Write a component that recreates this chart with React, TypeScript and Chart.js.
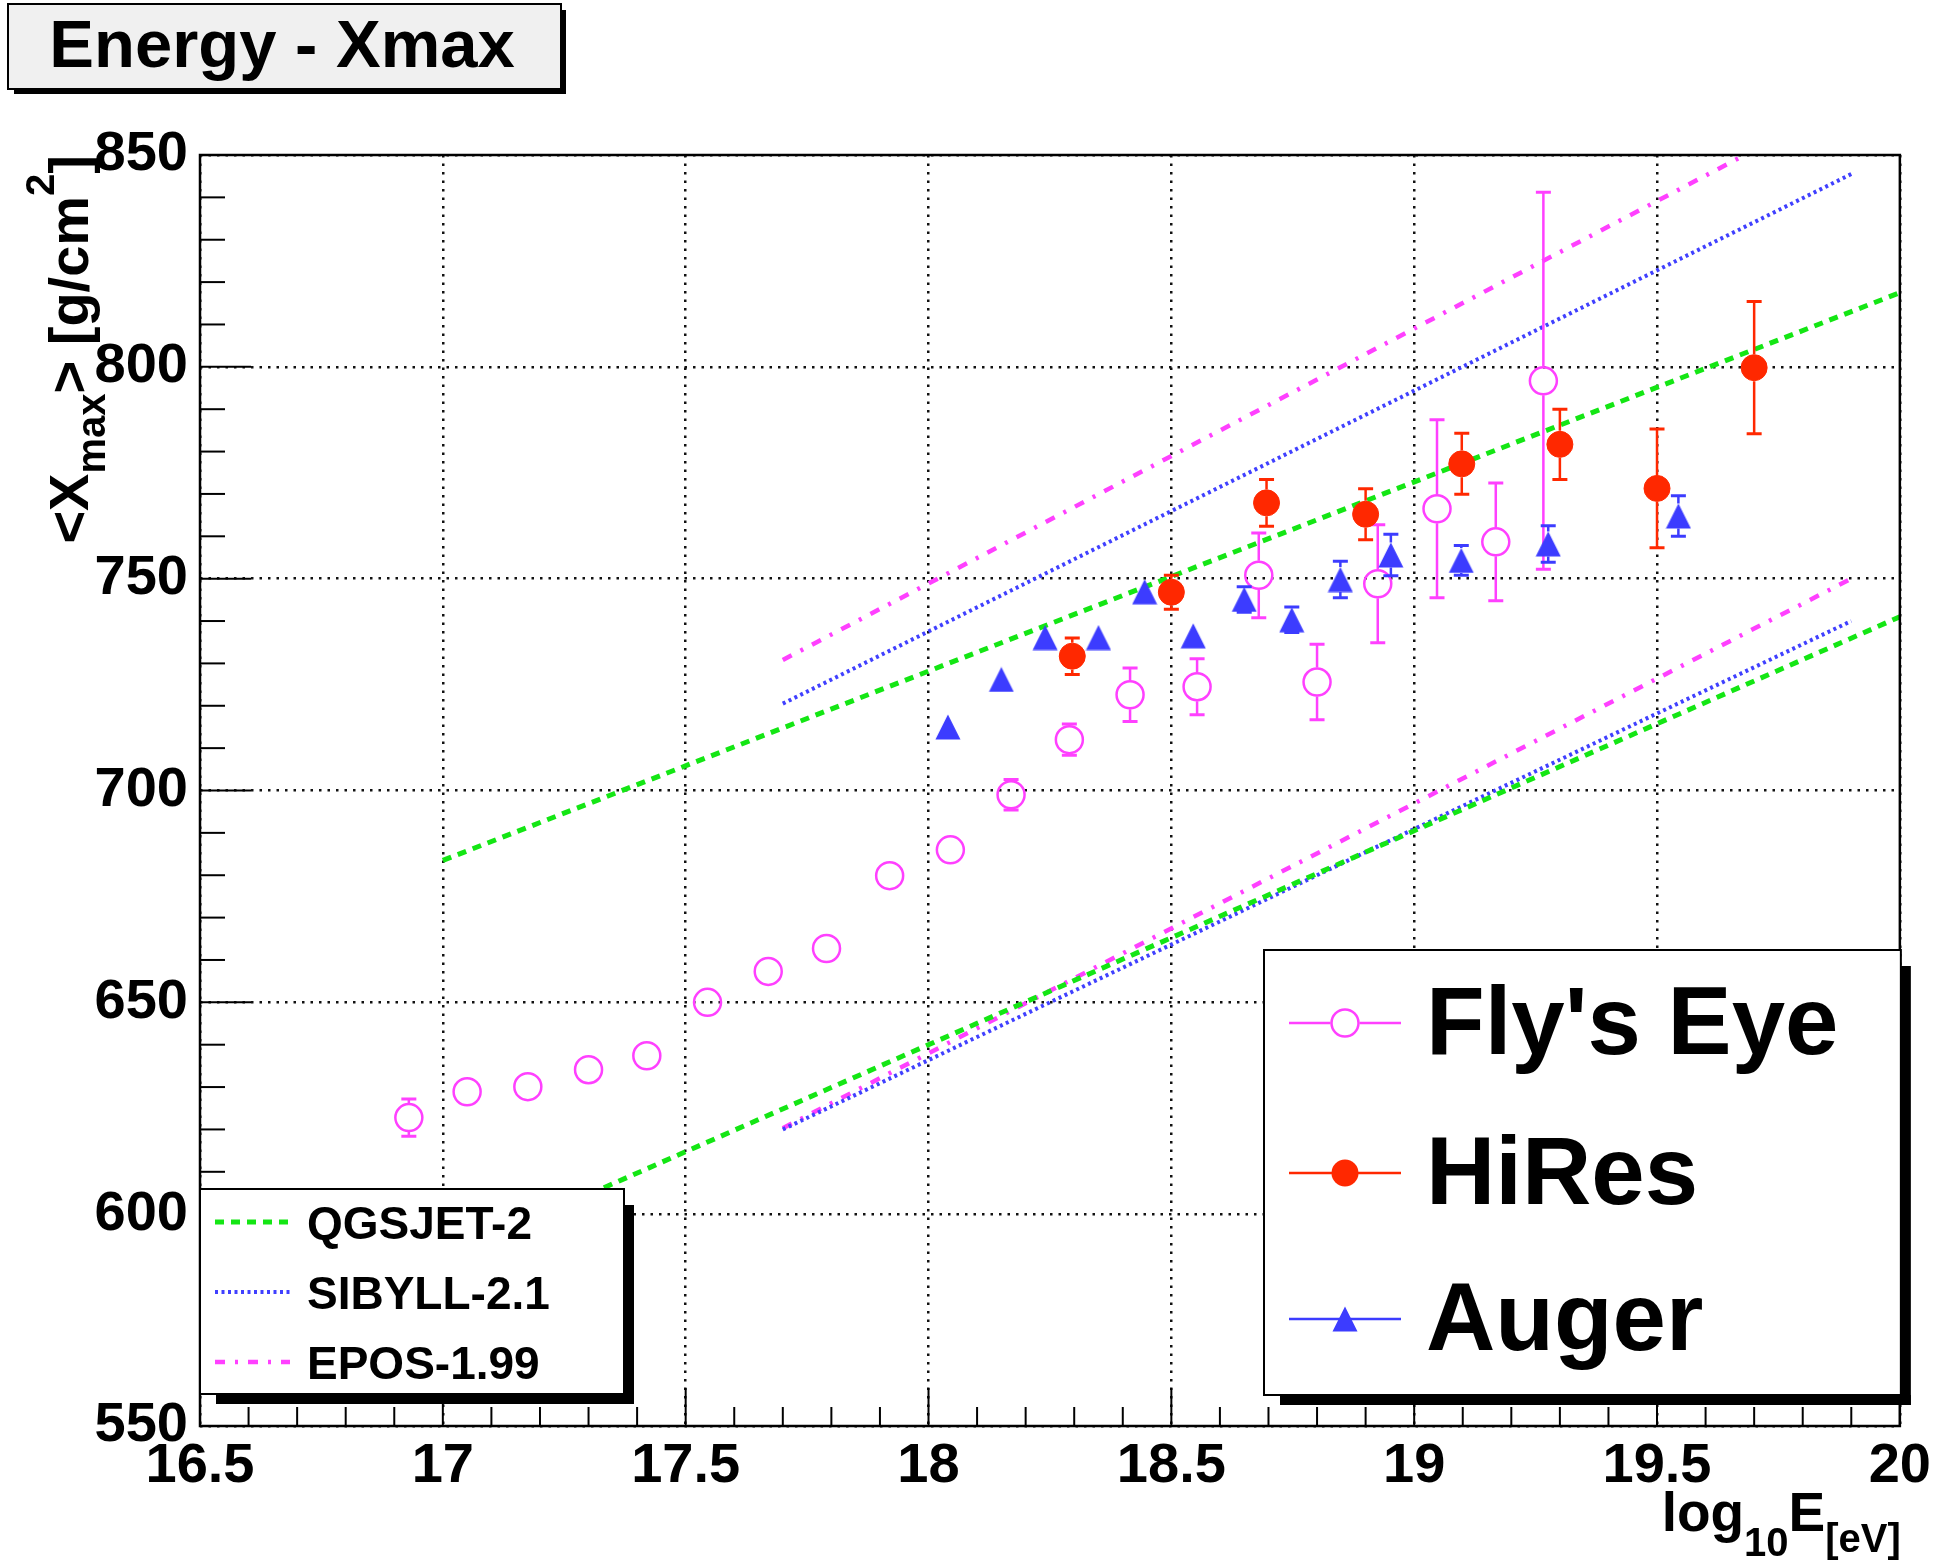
import React, { useEffect, useRef } from 'react';
import { Chart, registerables } from 'chart.js';

Chart.register(...registerables);

// ---------------- data ----------------
const xTickLabels = ['16.5', '17', '17.5', '18', '18.5', '19', '19.5', '20'];
const yTickLabels = ['550', '600', '650', '700', '750', '800', '850'];

const flysEyeLogE = [16.93, 17.05, 17.175, 17.3, 17.42, 17.545, 17.67, 17.79, 17.92, 18.045, 18.17, 18.29, 18.415, 18.553, 18.68, 18.8, 18.925, 19.047, 19.168, 19.266];
const flysEyeXmax = [622.8, 628.9, 630.1, 634.1, 637.4, 650.0, 657.3, 662.7, 679.9, 686.0, 699.0, 712.0, 722.6, 724.5, 750.8, 725.6, 748.8, 766.5, 758.7, 796.7];
const flysEyeErr = [4.4, 2.5, 2.5, 2.5, 2.5, 2.5, 2.5, 2.5, 2.5, 2.5, 3.6, 3.7, 6.3, 6.6, 10.0, 8.9, 13.9, 21.0, 13.9, 44.5];

const hiresLogE = [18.296, 18.5, 18.696, 18.9, 19.098, 19.3, 19.5, 19.7];
const hiresXmax = [731.7, 746.8, 767.9, 765.2, 777.1, 781.7, 771.3, 799.8];
const hiresErr = [4.3, 4.0, 5.5, 6.0, 7.2, 8.3, 14.0, 15.6];

const augerLogE = [18.04, 18.15, 18.24, 18.35, 18.445, 18.545, 18.65, 18.748, 18.848, 18.952, 19.097, 19.276, 19.544];
const augerXmax = [715.0, 726.2, 736.1, 736.1, 746.9, 736.5, 745.1, 740.3, 749.8, 755.6, 754.3, 758.2, 764.8];
const augerErr = [2, 2, 2, 2, 2, 2, 3.0, 3.0, 4.3, 4.9, 3.5, 4.3, 4.8];

const qgsjetLogE = [17.0, 20.0];
const qgsjetProton = [683.5, 817.5];
const qgsjetIron = [589.5, 741.0];
const sibyllLogE = [17.7, 19.9];
const sibyllProton = [720.5, 845.5];
const sibyllIron = [620.0, 740.0];
const eposLogE = [17.7, 19.9];
const eposProton = [730.8, 863.2];
const eposIron = [620.3, 750.0];

const modelNames = ['QGSJET-2', 'SIBYLL-2.1', 'EPOS-1.99'];
const dataNames = ["Fly's Eye", 'HiRes', 'Auger'];

// ---------------- style ----------------
const W = 1938;
const H = 1565;
const FONT = "'Liberation Sans', Arial, Helvetica, sans-serif";
const PINK = '#ff40ff';
const RED = '#ff2800';
const BLUE = '#3c3cff';
const GREEN = '#14e614';
const X_MIN = 16.5, X_MAX = 20, Y_MIN = 550, Y_MAX = 850;

const modelStyles = [
  { color: GREEN, width: 5, dash: [9, 7] },
  { color: '#4040ff', width: 4, dash: [3, 3.5] },
  { color: PINK, width: 4.5, dash: [10, 10, 3, 10] },
];

const pts = (xs: number[], ys: number[]) => xs.map((x, i) => ({ x, y: ys[i] }));

function makeTriangle(color: string, size: number) {
  const c = document.createElement('canvas');
  c.width = size;
  c.height = size;
  const g = c.getContext('2d')!;
  g.fillStyle = color;
  g.beginPath();
  g.moveTo(size / 2, 0.5);
  g.lineTo(size - 0.5, size - 0.5);
  g.lineTo(0.5, size - 0.5);
  g.closePath();
  g.fill();
  return c;
}

type Seg = { t: string; size: number; dy: number };
function richWidth(ctx: CanvasRenderingContext2D, segs: Seg[]) {
  let w = 0;
  for (const s of segs) {
    ctx.font = `bold ${s.size}px ${FONT}`;
    w += ctx.measureText(s.t).width;
  }
  return w;
}
function drawRich(ctx: CanvasRenderingContext2D, segs: Seg[], x: number, y: number) {
  let cx = x;
  ctx.textAlign = 'left';
  ctx.textBaseline = 'alphabetic';
  for (const s of segs) {
    ctx.font = `bold ${s.size}px ${FONT}`;
    ctx.fillText(s.t, cx, y + s.dy);
    cx += ctx.measureText(s.t).width;
  }
}

function line(ctx: CanvasRenderingContext2D, x1: number, y1: number, x2: number, y2: number) {
  ctx.beginPath();
  ctx.moveTo(x1, y1);
  ctx.lineTo(x2, y2);
  ctx.stroke();
}

function boxWithShadow(ctx: CanvasRenderingContext2D, l: number, t: number, r: number, b: number, sh: number, off: number, fill: string) {
  ctx.fillStyle = '#000';
  ctx.fillRect(r, t + off, sh, b - t - off + sh);
  ctx.fillRect(l + off, b, r - l - off + sh, sh);
  ctx.fillStyle = fill;
  ctx.fillRect(l, t, r - l, b - t);
  ctx.strokeStyle = '#000';
  ctx.lineWidth = 2;
  ctx.setLineDash([]);
  ctx.strokeRect(l, t, r - l, b - t);
}

export default function App() {
  const ref = useRef<HTMLCanvasElement>(null);

  useEffect(() => {
    const canvas = ref.current!;
    const tri = makeTriangle(BLUE, 26);

    const drawMarker = (ctx: CanvasRenderingContext2D, kind: number, x: number, y: number) => {
      if (kind === 0) {
        ctx.strokeStyle = PINK;
        ctx.lineWidth = 2.5;
        ctx.beginPath();
        ctx.arc(x, y, 13.5, 0, Math.PI * 2);
        ctx.stroke();
      } else if (kind === 1) {
        ctx.fillStyle = RED;
        ctx.beginPath();
        ctx.arc(x, y, 13.5, 0, Math.PI * 2);
        ctx.fill();
      } else {
        ctx.drawImage(tri, x - tri.width / 2, y - tri.height / 2);
      }
    };

    const rootPlugin = {
      id: 'rootStyle',
      beforeDraw(chart: any) {
        const ctx = chart.ctx;
        ctx.save();
        ctx.fillStyle = '#fff';
        ctx.fillRect(0, 0, chart.width, chart.height);
        ctx.restore();
      },
      afterDatasetDraw(chart: any, args: any) {
        const ds: any = chart.data.datasets[args.index];
        if (!ds.errors) return;
        const ctx: CanvasRenderingContext2D = chart.ctx;
        const a = chart.chartArea;
        const ys = chart.scales.y;
        ctx.save();
        ctx.beginPath();
        ctx.rect(a.left, a.top, a.right - a.left, a.bottom - a.top);
        ctx.clip();
        ctx.strokeStyle = ds.errColor;
        ctx.setLineDash([]);
        const m = ds.markerHalf;
        args.meta.data.forEach((p: any, i: number) => {
          const v = ds.data[i].y;
          const e = ds.errors[i];
          const yTop = ys.getPixelForValue(v + e);
          const yBot = ys.getPixelForValue(v - e);
          const x = p.x, y = p.y;
          if (y - yTop > m) {
            ctx.lineWidth = 2.5;
            line(ctx, x, y - m, x, yTop);
            ctx.lineWidth = 3;
            line(ctx, x - 7.5, yTop, x + 7.5, yTop);
          }
          if (yBot - y > m) {
            ctx.lineWidth = 2.5;
            line(ctx, x, y + m, x, yBot);
            ctx.lineWidth = 3;
            line(ctx, x - 7.5, yBot, x + 7.5, yBot);
          }
        });
        ctx.restore();
      },
      afterDraw(chart: any) {
        const ctx: CanvasRenderingContext2D = chart.ctx;
        const a = chart.chartArea;
        const xs = chart.scales.x;
        const ys = chart.scales.y;
        ctx.save();
        ctx.setLineDash([]);
        ctx.strokeStyle = '#000';
        ctx.fillStyle = '#000';

        // ticks (inside, ROOT style)
        ctx.lineWidth = 2;
        const nx = Math.round((X_MAX - X_MIN) / 0.1);
        for (let i = 0; i <= nx; i++) {
          const px = xs.getPixelForValue(X_MIN + i * 0.1);
          const len = i % 5 === 0 ? 38 : 19;
          line(ctx, px, a.bottom, px, a.bottom - len);
        }
        const ny = Math.round((Y_MAX - Y_MIN) / 10);
        for (let i = 0; i <= ny; i++) {
          const py = ys.getPixelForValue(Y_MIN + i * 10);
          const len = i % 5 === 0 ? 51 : 25;
          line(ctx, a.left, py, a.left + len, py);
        }
        // frame
        ctx.lineWidth = 2.5;
        ctx.strokeRect(a.left, a.top, a.right - a.left, a.bottom - a.top);

        // x title
        const xSegs: Seg[] = [
          { t: 'log', size: 55, dy: 0 },
          { t: '10', size: 40, dy: 25 },
          { t: 'E', size: 55, dy: 0 },
          { t: '[eV]', size: 40, dy: 21 },
        ];
        const xw = richWidth(ctx, xSegs);
        drawRich(ctx, xSegs, a.right + 1 - xw, 1531);

        // y title (rotated)
        const ySegs: Seg[] = [
          { t: '<X', size: 56, dy: 0 },
          { t: 'max', size: 40, dy: 17 },
          { t: '>', size: 56, dy: 0 },
          { t: ' [g/cm', size: 56, dy: 0 },
          { t: '2', size: 40, dy: -34 },
          { t: ']', size: 56, dy: 0 },
        ];
        const yw = richWidth(ctx, ySegs);
        ctx.save();
        ctx.translate(88, a.top);
        ctx.rotate(-Math.PI / 2);
        drawRich(ctx, ySegs, -yw, 0);
        ctx.restore();

        // title box
        boxWithShadow(ctx, 8, 4, 561, 89, 5, 6, '#f0f0f0');
        ctx.fillStyle = '#000';
        ctx.font = `bold 67px ${FONT}`;
        ctx.textAlign = 'center';
        ctx.textBaseline = 'alphabetic';
        ctx.fillText('Energy - Xmax', 282, 67);

        // model legend
        boxWithShadow(ctx, a.left, 1189, 624, 1394, 10, 16, '#fff');
        const mRows = [1222, 1292, 1362];
        modelNames.forEach((name, i) => {
          const st = modelStyles[i];
          ctx.strokeStyle = st.color;
          ctx.lineWidth = st.width;
          ctx.setLineDash(st.dash);
          line(ctx, 215, mRows[i], 290, mRows[i]);
          ctx.setLineDash([]);
          ctx.fillStyle = '#000';
          ctx.font = `bold 46px ${FONT}`;
          ctx.textAlign = 'left';
          ctx.textBaseline = 'alphabetic';
          ctx.fillText(name, 307, mRows[i] + 16.5);
        });

        // data legend
        boxWithShadow(ctx, 1264, 950, a.right + 1, 1395, 10, 16, '#fff');
        const dRows = [1023, 1173, 1319];
        const dColors = [PINK, RED, BLUE];
        dataNames.forEach((name, i) => {
          ctx.strokeStyle = dColors[i];
          ctx.lineWidth = 2.5;
          ctx.setLineDash([]);
          if (i === 0) {
            line(ctx, 1289, dRows[i], 1345 - 14.5, dRows[i]);
            line(ctx, 1345 + 14.5, dRows[i], 1401, dRows[i]);
          } else {
            line(ctx, 1289, dRows[i], 1401, dRows[i]);
          }
          drawMarker(ctx, i, 1345, dRows[i]);
          ctx.fillStyle = '#000';
          ctx.font = `bold 96px ${FONT}`;
          ctx.textAlign = 'left';
          ctx.textBaseline = 'alphabetic';
          ctx.fillText(name, 1426, dRows[i] + 31);
        });

        ctx.restore();
      },
    };

    const lineDs = (label: string, xsArr: number[], ysArr: number[], st: any) => ({
      label,
      data: pts(xsArr, ysArr),
      showLine: true,
      pointRadius: 0,
      borderColor: st.color,
      borderWidth: st.width,
      borderDash: st.dash,
      fill: false,
      order: 10,
    });

    const chart = new Chart(canvas, {
      type: 'scatter',
      data: {
        datasets: [
          {
            label: dataNames[1],
            data: pts(hiresLogE, hiresXmax),
            pointStyle: 'circle',
            pointRadius: 13,
            pointBackgroundColor: RED,
            pointBorderColor: RED,
            pointBorderWidth: 1,
            errors: hiresErr,
            errColor: RED,
            markerHalf: 13.5,
            order: 1,
          } as any,
          {
            label: dataNames[2],
            data: pts(augerLogE, augerXmax),
            pointStyle: tri,
            pointRadius: 12,
            errors: augerErr,
            errColor: BLUE,
            markerHalf: 12.5,
            order: 2,
          } as any,
          {
            label: dataNames[0],
            data: pts(flysEyeLogE, flysEyeXmax),
            pointStyle: 'circle',
            pointRadius: 13.5,
            pointBackgroundColor: 'rgba(0,0,0,0)',
            pointBorderColor: PINK,
            pointBorderWidth: 2.5,
            errors: flysEyeErr,
            errColor: PINK,
            markerHalf: 14.5,
            order: 3,
          } as any,
          lineDs('QGSJET-2 p', qgsjetLogE, qgsjetProton, modelStyles[0]),
          lineDs('QGSJET-2 Fe', qgsjetLogE, qgsjetIron, modelStyles[0]),
          lineDs('SIBYLL-2.1 p', sibyllLogE, sibyllProton, modelStyles[1]),
          lineDs('SIBYLL-2.1 Fe', sibyllLogE, sibyllIron, modelStyles[1]),
          lineDs('EPOS-1.99 p', eposLogE, eposProton, modelStyles[2]),
          lineDs('EPOS-1.99 Fe', eposLogE, eposIron, modelStyles[2]),
        ],
      },
      options: {
        animation: false,
        responsive: false,
        devicePixelRatio: 1,
        events: [],
        layout: { padding: { left: 0, top: 155, right: 36, bottom: 0 } },
        plugins: {
          legend: { display: false },
          tooltip: { enabled: false },
          title: { display: false },
        },
        scales: {
          x: {
            type: 'linear',
            min: X_MIN,
            max: X_MAX,
            afterFit: (s: any) => {
              s.height = H - 1426;
            },
            ticks: {
              stepSize: 0.5,
              autoSkip: false,
              maxRotation: 0,
              minRotation: 0,
              padding: 7,
              color: '#000',
              font: { family: FONT, size: 56, weight: 'bold' },
              callback: (v: any) => xTickLabels.find((l) => Math.abs(parseFloat(l) - Number(v)) < 1e-6) ?? '',
            },
            grid: { color: '#111', lineWidth: 2.5, drawTicks: false },
            border: { display: false, dash: [2.5, 6] },
          },
          y: {
            type: 'linear',
            min: Y_MIN,
            max: Y_MAX,
            afterFit: (s: any) => {
              s.width = 200;
            },
            ticks: {
              stepSize: 50,
              autoSkip: false,
              padding: 12,
              color: '#000',
              font: { family: FONT, size: 56, weight: 'bold' },
              callback: (v: any) => yTickLabels.find((l) => Math.abs(parseFloat(l) - Number(v)) < 1e-6) ?? '',
            },
            grid: { color: '#111', lineWidth: 2.5, drawTicks: false },
            border: { display: false, dash: [2.5, 6] },
          },
        },
      } as any,
      plugins: [rootPlugin as any],
    });

    return () => chart.destroy();
  }, []);

  return (
    <div style={{ position: 'fixed', left: 0, top: 0, width: W, height: H, background: '#fff' }}>
      <canvas ref={ref} width={W} height={H} style={{ display: 'block', width: W, height: H }} />
    </div>
  );
}
